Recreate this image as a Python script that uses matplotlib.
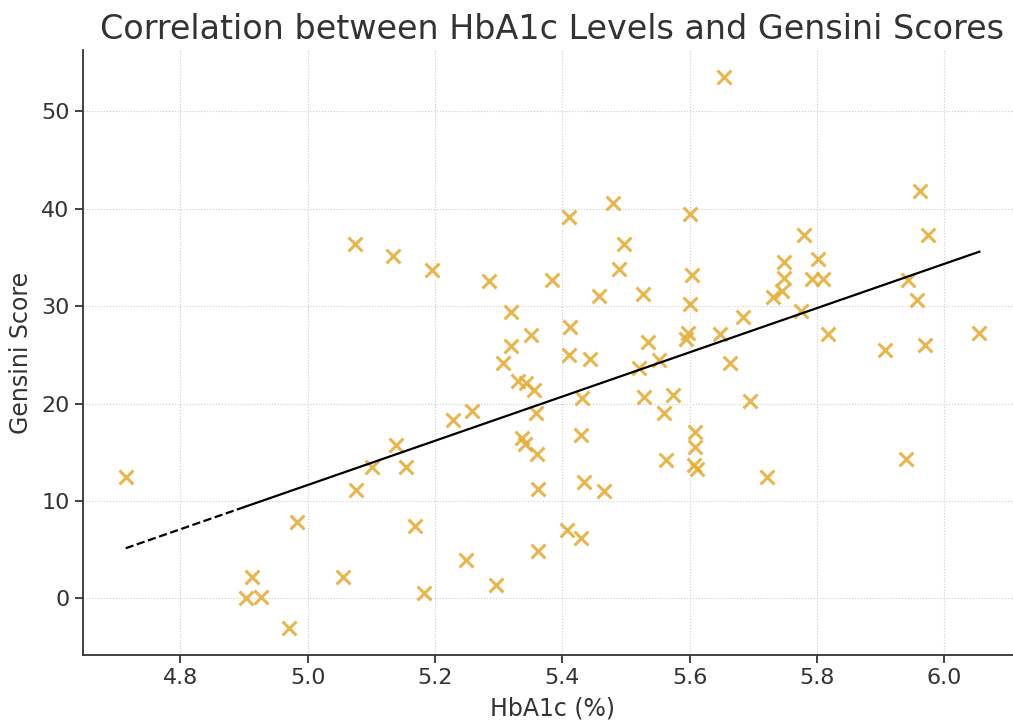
import numpy as np
import matplotlib
matplotlib.use("Agg")
import matplotlib.pyplot as plt

hba1c = [4.714, 4.903, 4.912, 4.926, 4.970, 4.983, 5.056, 5.074, 5.076, 5.101,
         5.134, 5.139, 5.155, 5.169, 5.183, 5.196, 5.228, 5.249, 5.258, 5.284,
         5.296, 5.306, 5.320, 5.320, 5.330, 5.337, 5.342, 5.343, 5.350, 5.356,
         5.359, 5.360, 5.361, 5.362, 5.384, 5.408, 5.410, 5.411, 5.412, 5.430,
         5.430, 5.431, 5.434, 5.444, 5.458, 5.466, 5.479, 5.489, 5.497, 5.520,
         5.526, 5.528, 5.534, 5.552, 5.559, 5.563, 5.573, 5.594, 5.597, 5.600,
         5.600, 5.603, 5.608, 5.609, 5.607, 5.611, 5.648, 5.654, 5.664, 5.683,
         5.694, 5.722, 5.731, 5.745, 5.748, 5.748, 5.775, 5.779, 5.792, 5.801,
         5.810, 5.818, 5.907, 5.940, 5.943, 5.957, 5.962, 5.969, 5.974, 6.055]
gensini = [12.5, 0.1, 2.2, 0.2, -3.0, 7.9, 2.2, 36.4, 11.1, 13.5,
           35.2, 15.8, 13.5, 7.4, 0.6, 33.7, 18.3, 3.9, 19.2, 32.6,
           1.4, 24.2, 29.4, 25.9, 22.3, 16.5, 15.9, 22.1, 27.0, 21.4,
           19.0, 14.8, 4.9, 11.2, 32.7, 7.0, 25.0, 39.2, 27.9, 16.8,
           6.2, 20.6, 12.0, 24.6, 31.1, 11.0, 40.6, 33.8, 36.4, 23.7,
           31.3, 20.7, 26.3, 24.5, 19.0, 14.2, 20.9, 26.6, 27.3, 30.2,
           39.5, 33.2, 17.1, 15.5, 13.7, 13.3, 27.2, 53.5, 24.2, 28.9,
           20.3, 12.5, 30.9, 31.6, 32.9, 34.5, 29.5, 37.3, 32.8, 34.8,
           32.8, 27.2, 25.5, 14.3, 32.7, 30.6, 41.8, 26.0, 37.3, 27.3]

fit_slope = 22.70
fit_intercept = -101.85
dash_end = 4.90

x_ticks = [4.8, 5.0, 5.2, 5.4, 5.6, 5.8, 6.0]
y_ticks = [0, 10, 20, 30, 40, 50]

TXT = "#333333"
plt.rcParams['font.family'] = ['DejaVu Sans']

fig = plt.figure(figsize=(10.13, 7.2), dpi=100)
W, H = 1013, 720
ax = fig.add_axes([83 / W, (H - 655) / H, (1022 - 83) / W, (655 - 50) / H])

ax.scatter(hba1c, gensini, marker='x', s=100, linewidths=2.2,
           color='#e5ae38', alpha=0.9, zorder=3)

xmin, xmax = min(hba1c), max(hba1c)
xd = np.array([xmin, dash_end])
xs = np.array([dash_end, xmax])
ax.plot(xd, fit_slope * xd + fit_intercept, color='black', lw=1.6, ls='--', zorder=4)
ax.plot(xs, fit_slope * xs + fit_intercept, color='black', lw=1.6, ls='-', zorder=4)

ax.set_xticks(x_ticks)
ax.set_yticks(y_ticks)
ax.set_xlim(4.647, 6.122)
ax.set_ylim(-5.8, 56.3)

ax.grid(True, ls=':', color='#cccccc', lw=0.8)
ax.set_axisbelow(True)
for s in ['top', 'right']:
    ax.spines[s].set_visible(False)
for s in ['left', 'bottom']:
    ax.spines[s].set_color(TXT)
    ax.spines[s].set_linewidth(1.3)
ax.tick_params(axis='both', colors=TXT, labelsize=16, length=6, width=1.3,
               labelcolor=TXT)

ax.set_title("Correlation between HbA1c Levels and Gensini Scores",
             fontsize=24, color=TXT, pad=8)
ax.set_xlabel("HbA1c (%)", fontsize=17, color=TXT, labelpad=6)
ax.set_ylabel("Gensini Score", fontsize=17, color=TXT, labelpad=6)

fig.savefig("out.png", dpi=100)
